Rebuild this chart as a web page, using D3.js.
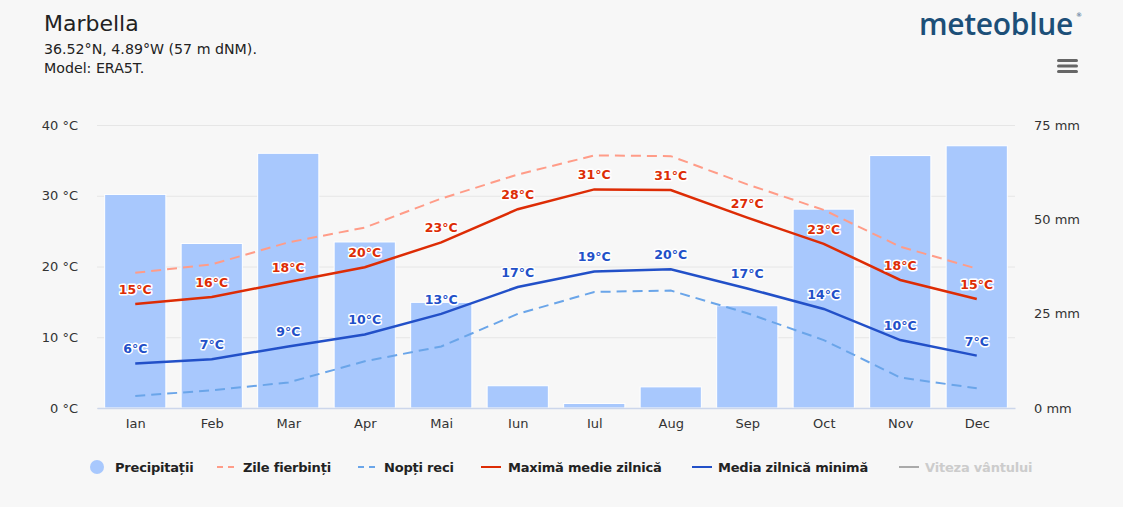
<!DOCTYPE html>
<html>
<head>
<meta charset="utf-8">
<script src="https://cdn.jsdelivr.net/npm/d3@7"></script>
<style>
  body { margin: 0; background: #f7f7f7; }
  svg { display: block; font-family: "DejaVu Sans", sans-serif; }
</style>
</head>
<body>
<div id="chart"></div>
<script>
const months = ["Ian", "Feb", "Mar", "Apr", "Mai", "Iun", "Iul", "Aug", "Sep", "Oct", "Nov", "Dec"];
const precip = [56.6, 43.6, 67.5, 44.0, 28.0, 5.9, 1.2, 5.6, 27.1, 52.7, 66.9, 69.5];
const hotDays = [19.1, 20.3, 23.4, 25.5, 29.6, 33.0, 35.7, 35.6, 31.6, 28.0, 22.8, 19.7];
const coldNights = [1.7, 2.5, 3.6, 6.6, 8.7, 13.3, 16.4, 16.6, 13.4, 9.6, 4.3, 2.8];
const maxTemp = [14.7, 15.7, 17.8, 19.9, 23.4, 28.1, 30.9, 30.8, 26.9, 23.2, 18.1, 15.4];
const minTemp = [6.3, 6.9, 8.7, 10.4, 13.3, 17.1, 19.3, 19.6, 16.9, 14.0, 9.6, 7.4];
const tempTicks = [0, 10, 20, 30, 40];
const precipTicks = [0, 25, 50, 75];

const width = 1123, height = 507;
const margin = { top: 125, right: 108, bottom: 99, left: 97 };
const plotW = width - margin.left - margin.right;
const plotH = height - margin.top - margin.bottom;

const svg = d3.select("#chart").append("svg")
  .attr("width", width)
  .attr("height", height)
  .style("background", "#f7f7f7");

// header
svg.append("text").attr("x", 44).attr("y", 31)
  .attr("font-size", 22).attr("fill", "#222").text("Marbella");
svg.append("text").attr("x", 44).attr("y", 54)
  .attr("font-size", 14.2).attr("fill", "#222").text("36.52°N, 4.89°W (57 m dNM).");
svg.append("text").attr("x", 44).attr("y", 73)
  .attr("font-size", 14.2).attr("fill", "#222").text("Model: ERA5T.");

// logo
svg.append("text").attr("x", 1073).attr("y", 35)
  .attr("text-anchor", "end")
  .attr("font-family", "Open Sans")
  .attr("font-size", 30).attr("font-weight", 600)
  .attr("letter-spacing", -0.3)
  .attr("fill", "#1c4f78").text("meteoblue");
svg.append("text").attr("x", 1076).attr("y", 17)
  .attr("font-size", 6).attr("fill", "#1c4f78").text("®");

// menu icon
[0, 1, 2].forEach(i => {
  svg.append("rect")
    .attr("x", 1057).attr("y", 59 + i * 5.5)
    .attr("width", 21).attr("height", 3)
    .attr("rx", 1.5)
    .attr("fill", "#666");
});

const g = svg.append("g").attr("transform", `translate(${margin.left},${margin.top})`);

const x = d3.scaleBand().domain(months).range([0, plotW]).paddingInner(0.2).paddingOuter(0.1);
const xc = d3.scalePoint().domain(months).range([0, plotW]).padding(0.5);
const yT = d3.scaleLinear().domain([0, 40]).range([plotH, 0]);
const yP = d3.scaleLinear().domain([0, 75]).range([plotH, 0]);

// grid
g.append("g")
  .call(d3.axisLeft(yT).tickValues(tempTicks).tickSize(-plotW).tickFormat(d => `${d} °C`))
  .call(a => a.select(".domain").remove())
  .call(a => a.selectAll("line").attr("stroke", "#e6e6e6"))
  .call(a => a.selectAll("text")
    .attr("x", -19).attr("font-size", 13).attr("fill", "#333")
    .attr("font-family", "DejaVu Sans"));

g.append("g")
  .attr("transform", `translate(${plotW},0)`)
  .call(d3.axisRight(yP).tickValues(precipTicks).tickSize(0).tickFormat(d => `${d} mm`))
  .call(a => a.select(".domain").remove())
  .call(a => a.selectAll("text")
    .attr("x", 19).attr("font-size", 13).attr("fill", "#333")
    .attr("font-family", "DejaVu Sans"));

// bars
g.selectAll("rect.bar")
  .data(precip)
  .enter().append("rect")
  .attr("class", "bar")
  .attr("x", (d, i) => x(months[i]))
  .attr("y", d => yP(d))
  .attr("width", x.bandwidth())
  .attr("height", d => plotH - yP(d))
  .attr("fill", "#a8c8fd")
  .attr("stroke", "#ffffff")
  .attr("stroke-width", 1);

// x axis
g.append("g")
  .attr("transform", `translate(0,${plotH})`)
  .call(d3.axisBottom(xc).tickSize(0).tickPadding(11))
  .call(a => a.select(".domain").attr("stroke", "#ccd6eb").attr("stroke-width", 1.5))
  .call(a => a.selectAll("text")
    .attr("font-size", 13).attr("fill", "#333")
    .attr("font-family", "DejaVu Sans"));

const line = d3.line()
  .x((d, i) => xc(months[i]))
  .y(d => yT(d));

const series = [
  { data: hotDays, color: "#ff9c88", dash: "10 6", w: 2 },
  { data: coldNights, color: "#6aa5e9", dash: "10 6", w: 2 },
  { data: maxTemp, color: "#dd2c05", dash: null, w: 2.5, label: true },
  { data: minTemp, color: "#2250c8", dash: null, w: 2.5, label: true }
];

series.forEach(s => {
  g.append("path")
    .datum(s.data)
    .attr("fill", "none")
    .attr("stroke", s.color)
    .attr("stroke-width", s.w)
    .attr("stroke-dasharray", s.dash)
    .attr("d", line);
});

// data labels
series.filter(s => s.label).forEach(s => {
  g.selectAll(null)
    .data(s.data)
    .enter().append("text")
    .attr("x", (d, i) => xc(months[i]))
    .attr("y", d => yT(d) - 10)
    .attr("text-anchor", "middle")
    .attr("font-size", 12.5)
    .attr("font-weight", "bold")
    .attr("fill", s.color)
    .attr("stroke", "#ffffff")
    .attr("stroke-width", 3)
    .attr("stroke-linejoin", "round")
    .attr("paint-order", "stroke")
    .text(d => `${Math.round(d)}°C`);
});

// legend
const legend = svg.append("g").attr("transform", "translate(0,467)");
const items = [
  { name: "Precipitații", type: "dot", color: "#a8c8fd", x: 97, tx: 115 },
  { name: "Zile fierbinți", type: "dash", color: "#ff9c88", x: 217, tx: 243 },
  { name: "Nopți reci", type: "dash", color: "#6aa5e9", x: 358, tx: 384 },
  { name: "Maximă medie zilnică", type: "line", color: "#dd2c05", x: 481, tx: 508 },
  { name: "Media zilnică minimă", type: "line", color: "#2250c8", x: 692, tx: 718 },
  { name: "Viteza vântului", type: "line", color: "#aaaaaa", x: 899, tx: 925, off: true }
];
items.forEach(it => {
  if (it.type === "dot") {
    legend.append("circle").attr("cx", it.x).attr("cy", 0).attr("r", 7).attr("fill", it.color);
  } else {
    legend.append("line")
      .attr("x1", it.x).attr("x2", it.x + 20).attr("y1", 0).attr("y2", 0)
      .attr("stroke", it.color).attr("stroke-width", 2)
      .attr("stroke-dasharray", it.type === "dash" ? "6 5" : null);
  }
  legend.append("text")
    .attr("x", it.tx).attr("y", 5)
    .attr("font-size", 13).attr("font-weight", "bold")
    .attr("letter-spacing", -0.2)
    .attr("fill", it.off ? "#cccccc" : "#222")
    .text(it.name);
});
</script>
</body>
</html>
